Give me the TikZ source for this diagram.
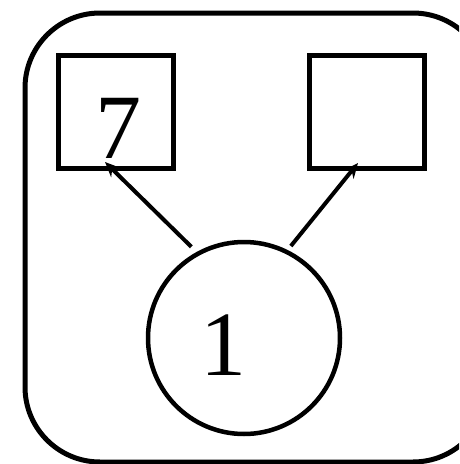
\documentclass[tikz,border=0pt]{standalone}
\usepackage{fontspec}
\setmainfont{Liberation Serif}
\usetikzlibrary{arrows.meta}
\begin{document}
\begin{tikzpicture}[x=1pt,y=-1pt,
  frame/.style={draw,line width=5pt,rounded corners=75pt},
  box/.style={draw,line width=5pt,minimum width=115pt,minimum height=113pt,inner sep=0pt},
  circ/.style={draw,circle,line width=4.5pt,minimum size=192pt,inner sep=0pt},
  digit/.style={inner sep=0pt,font=\fontsize{92}{92}\selectfont},
  arr/.style={line width=4pt,-{Stealth[length=15pt,width=13pt]}}]
\useasboundingbox (0,0) rectangle (459,464);
\clip (0,0) rectangle (459,464);
\draw[frame] (25,13) rectangle (488,462);
\node[box] (a) at (115.5,111.5) {};
\node[box] (b) at (366.5,111.5) {};
\node[digit] (t7) at (118,128) {7};
\node[circ] (c) at (244,338) {};
\node[digit] (t1) at (223,345) {1};
\coordinate (ta) at (105,162);
\coordinate (tb) at (358,163);
\draw[arr] ([shift={(120:7pt)}]c.120) -- (ta);
\draw[arr] ([shift={(63:5pt)}]c.63) -- (tb);
\end{tikzpicture}
\end{document}
